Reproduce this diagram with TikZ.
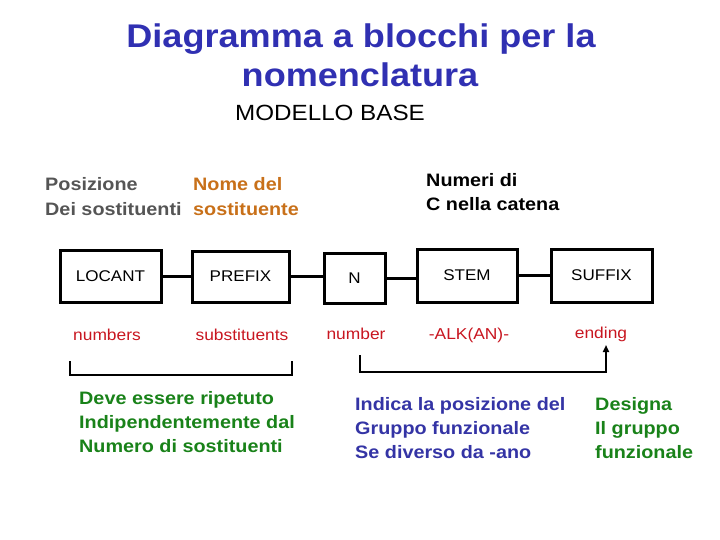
\documentclass[tikz,border=0pt]{standalone}
\usepackage{fontspec}
\setmainfont[FakeStretch=1.1]{Liberation Sans}
\usetikzlibrary{arrows.meta}
\definecolor{titleblue}{RGB}{48,48,178}
\definecolor{txtblue}{RGB}{52,52,165}
\definecolor{txtgreen}{RGB}{25,130,25}
\definecolor{txtorange}{RGB}{200,112,25}
\definecolor{txtgrey}{RGB}{85,85,85}
\definecolor{txtred}{RGB}{200,22,32}
\tikzset{
  blk/.style={draw=black, line width=3pt, rectangle, inner sep=0pt, font=\fontsize{15.5}{18}\selectfont},
  conn/.style={line width=3pt},
  redlab/.style={text=txtred, font=\fontsize{15.8}{18}\selectfont, inner sep=0pt},
  lab/.style={anchor=base west, inner sep=0pt, font=\bfseries\fontsize{18}{24}\selectfont},
  brk/.style={line width=2.5pt},
}
\begin{document}
\begin{tikzpicture}[x=1pt,y=-1pt]
\useasboundingbox (0,0) rectangle (720,540);
% title
\node[anchor=base, inner sep=0pt, text=titleblue, font=\bfseries\fontsize{32.8}{36}\selectfont] (t1) at (361,48) {Diagramma a blocchi per la};
\node[anchor=base, inner sep=0pt, text=titleblue, font=\bfseries\fontsize{32.8}{36}\selectfont] (t2) at (360,87) {nomenclatura};
\node[anchor=base west, inner sep=0pt, font=\fontsize{22}{26}\selectfont] (mb) at (235,121) {MODELLO BASE};
% top labels
\node[lab, text=txtgrey] (p1) at (45,191) {Posizione};
\node[lab, text=txtgrey] (p2) at (45,215) {Dei sostituenti};
\node[lab, text=txtorange] (n1) at (193,191) {Nome del};
\node[lab, text=txtorange] (n2) at (193,215) {sostituente};
\node[lab, text=black] (c1) at (426,187) {Numeri di};
\node[lab, text=black] (c2) at (426,211) {C nella catena};
% blocks
\node[blk, minimum width=101pt, minimum height=52pt] (loc) at (110.5,276) {LOCANT};
\node[blk, minimum width=97pt, minimum height=51pt] (pre) at (240.5,276.5) {PREFIX};
\node[blk, minimum width=61pt, minimum height=50pt] (nn) at (354.5,278) {N};
\node[blk, minimum width=100pt, minimum height=53pt] (stem) at (467,275.5) {STEM};
\node[blk, minimum width=101pt, minimum height=53pt] (suf) at (601.5,275.5) {SUFFIX};
\draw[conn] (loc.east) -- (loc.east -| pre.west);
\draw[conn] (pre.east) -- (pre.east -| nn.west);
\draw[conn] (nn.east) -- (nn.east -| stem.west);
\draw[conn] (stem.east) -- (stem.east -| suf.west);
% red labels
\node[redlab] (r1) at (107,335) {numbers};
\node[redlab] (r2) at (242,335) {substituents};
\node[redlab] (r3) at (356,334) {number};
\node[redlab] (r4) at (469,335) {-ALK(AN)-};
\node[redlab] (r5) at (601,334) {ending};
% brackets
\coordinate (b1) at (70,361);
\coordinate (b2) at (292,361);
\draw[brk] (b1) -- ++(0,14) -| (b2);
\coordinate (a1) at (360,355);
\coordinate (a2) at (606,345);
\draw[brk, -{Triangle[length=7pt,width=6pt]}] (a1) |- (446,372) -| (a2);
% bottom texts
\node[lab, text=txtgreen] (g1) at (79,404) {Deve essere ripetuto};
\node[lab, text=txtgreen] (g2) at (79,428) {Indipendentemente dal};
\node[lab, text=txtgreen] (g3) at (79,452) {Numero di sostituenti};
\node[lab, text=txtblue] (u1) at (355,410) {Indica la posizione del};
\node[lab, text=txtblue] (u2) at (355,434) {Gruppo funzionale};
\node[lab, text=txtblue] (u3) at (355,458) {Se diverso da -ano};
\node[lab, text=txtgreen] (d1) at (595,410) {Designa};
\node[lab, text=txtgreen] (d2) at (595,434) {Il gruppo};
\node[lab, text=txtgreen] (d3) at (595,458) {funzionale};
\end{tikzpicture}
\end{document}
